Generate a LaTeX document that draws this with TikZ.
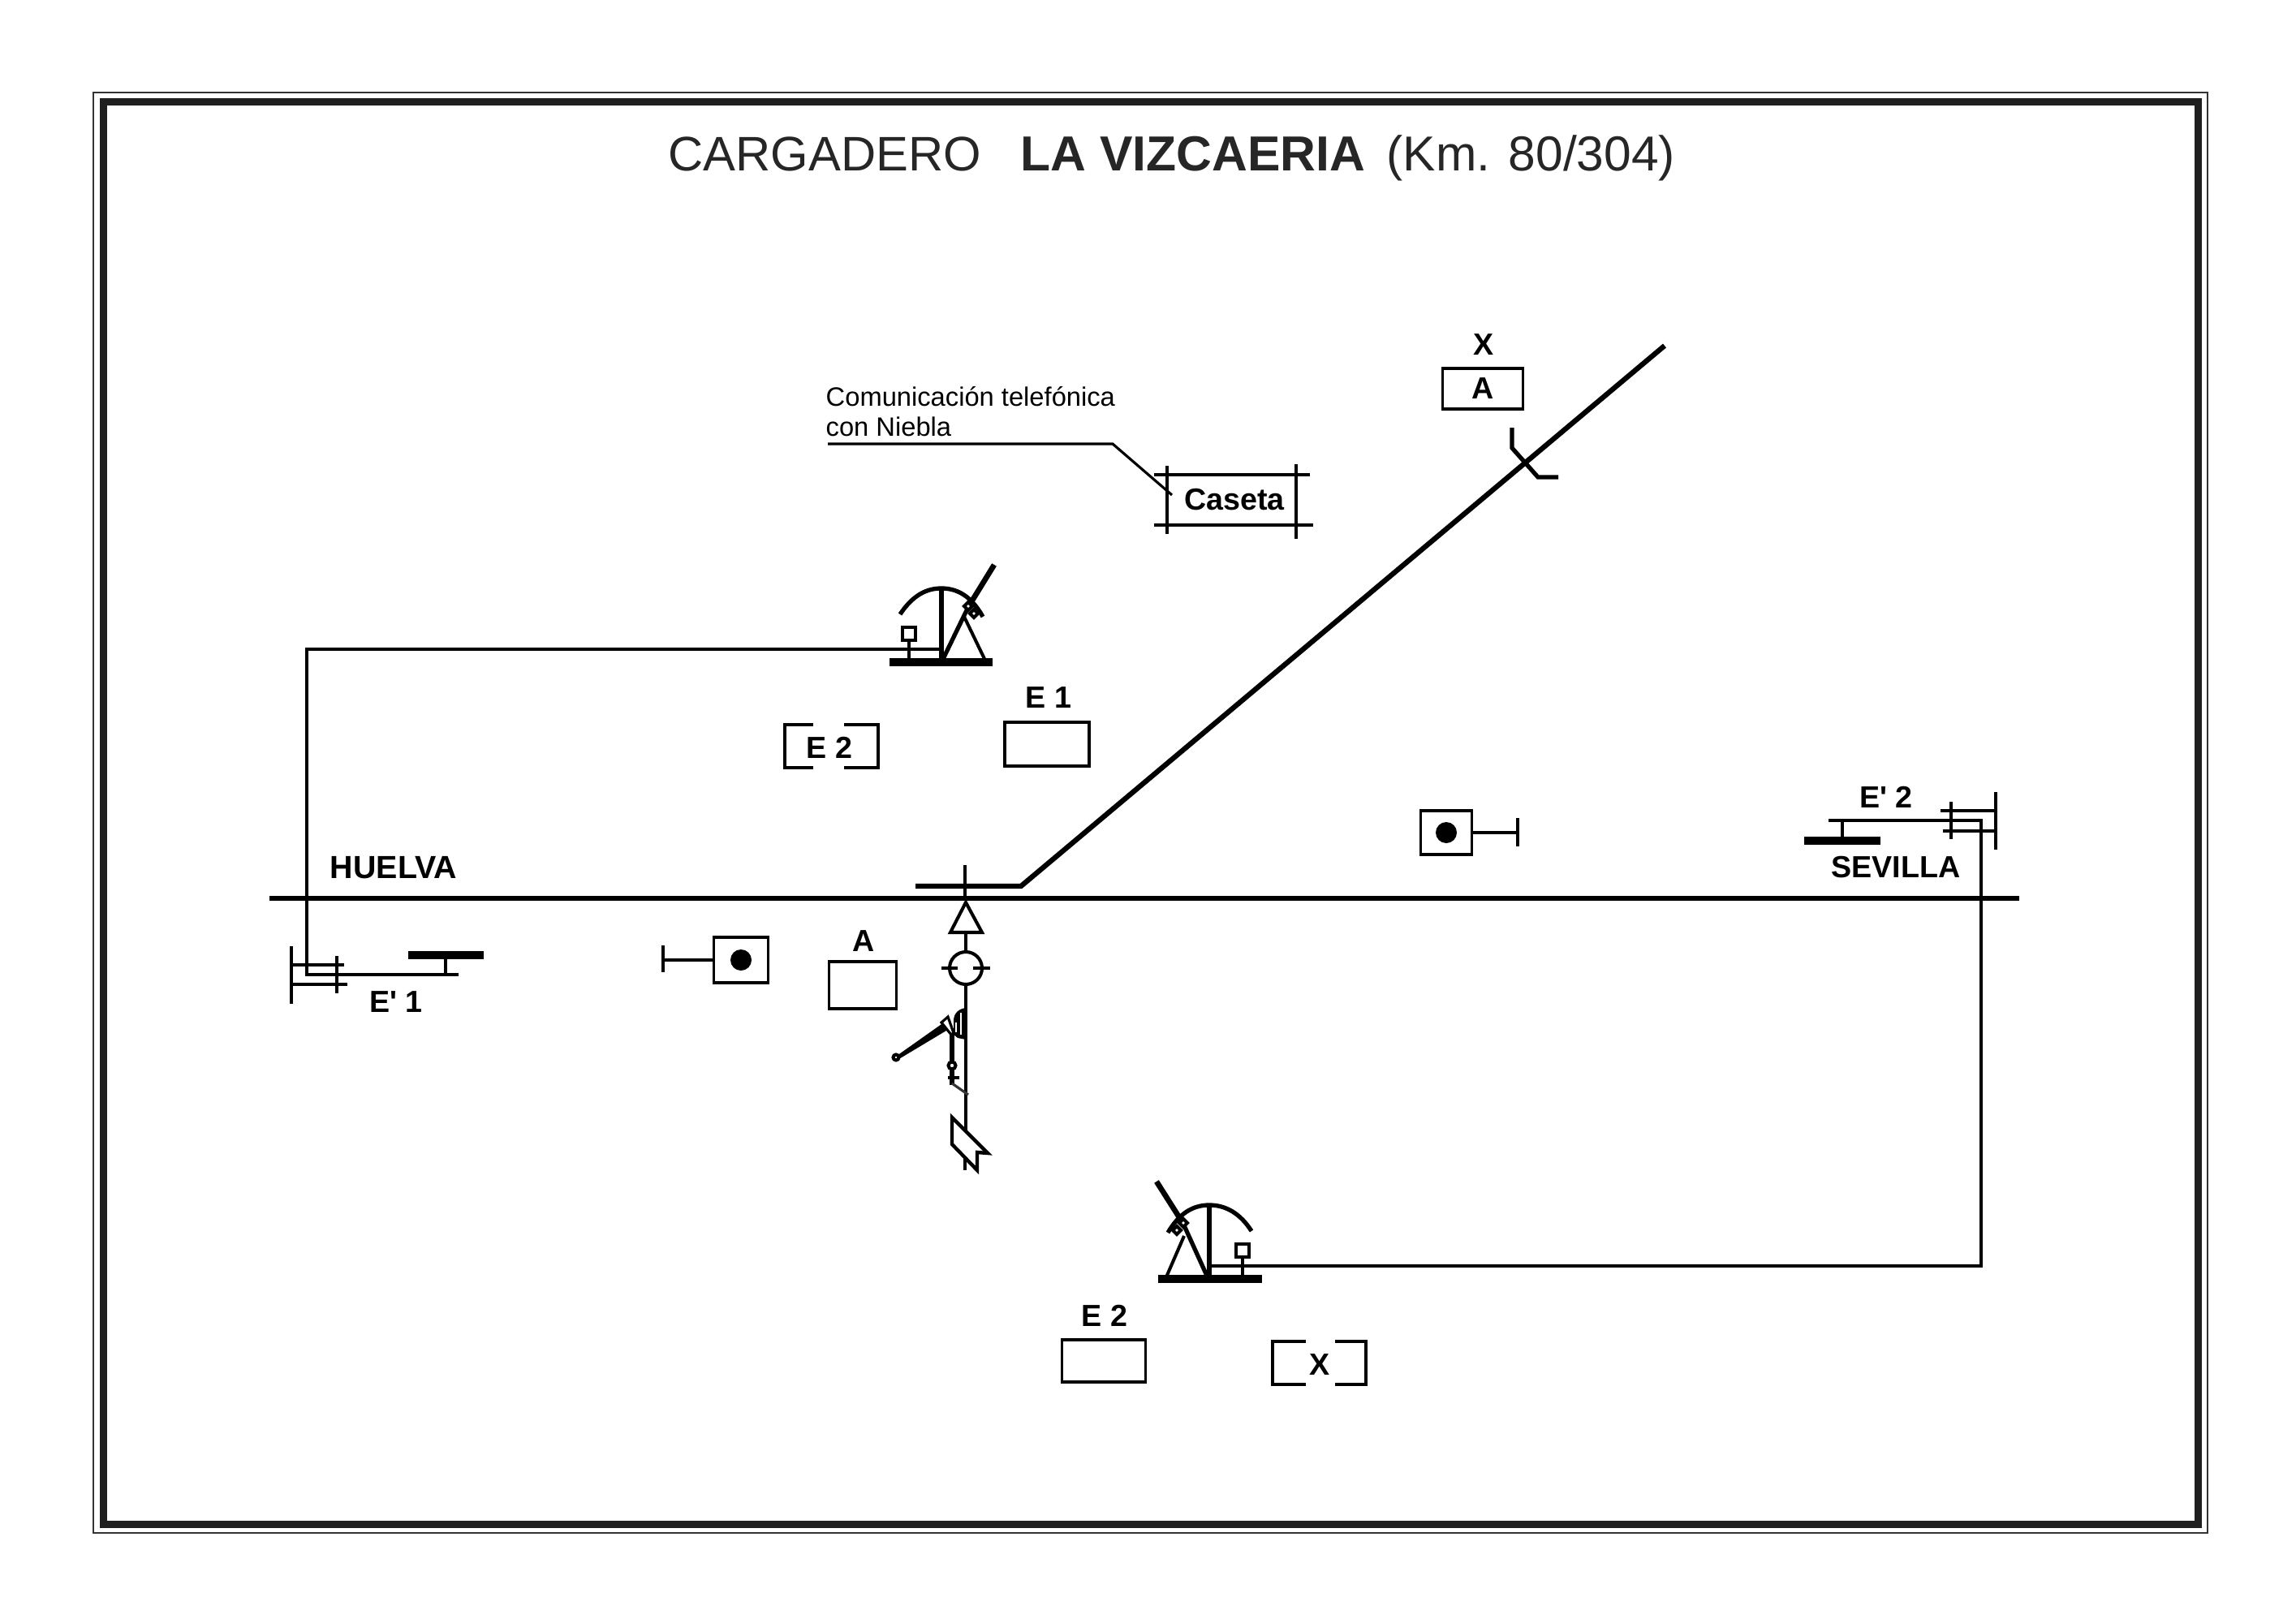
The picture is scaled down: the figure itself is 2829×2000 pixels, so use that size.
\documentclass[tikz,border=0pt]{standalone}
\usepackage{fontspec}
\setmainfont{Liberation Sans}
\tikzset{
    tag/.style={inner sep=0pt, font=\fontsize{10.7}{12}\selectfont\bfseries},
    cabin/.style={draw, line width=1pt, inner sep=0pt, fill=white},
    wireline/.style={line width=0.9pt},
    thinline/.style={line width=0.9pt},
    frameline/.style={line width=1pt},
    midline/.style={line width=1.15pt},
    railline/.style={line width=1.8pt},
    bar/.style={line width=2.6pt},
    mast/.style={line width=1.9pt},
    arm/.style={line width=1.5pt}
}
\begin{document}
\begin{tikzpicture}[x=0.01cm, y=-0.01cm]
    \useasboundingbox (0, 0) rectangle (2829, 2000);

    \draw[line width=0.7pt, color=black!80] (115, 114) rectangle (2720, 1889);
    \draw[line width=2.56pt, color=black!88] (127.5, 126) rectangle (2708, 1878);

    \node[anchor=base west, inner sep=0pt, color=black!85, font=\fontsize{17}{20}\selectfont] (titlea) at (823, 211) {CARGADERO};
    \node[anchor=base west, inner sep=0pt, color=black!85, font=\fontsize{17.25}{20}\selectfont\bfseries] (titleb) at (1257, 211) {LA VIZCAERIA};
    \node[anchor=base west, inner sep=0pt, color=black!85, font=\fontsize{17.2}{20}\selectfont] (titlec) at (1708, 211) {(Km. 80/304)};

    \draw[railline] (332, 1107) -- (2488, 1107);
    \draw[railline] (1128, 1092) -- (1258, 1092) -- (2051, 426);
    \draw[midline] (1189, 1066) -- (1189, 1107);

    \draw[midline] (1190, 1112) -- (1171, 1149) -- (1210, 1149) -- cycle;
    \node[circle, draw, midline, minimum size=40*0.01cm, inner sep=0pt] (lamp) at (1190, 1193) {};
    \draw[midline] (1190, 1149) -- (lamp.north);
    \draw[midline] (lamp.south) -- (1190, 1393);
    \draw[midline] (1160, 1193) -- (1180, 1193);
    \draw[midline] (1199, 1193) -- (1220, 1193);
    \draw[line width=1.25pt, fill=white] (1173, 1377) -- (1173, 1410) -- (1204, 1442) -- (1204, 1420) -- (1217, 1421) -- cycle;
    \draw[midline] (1189, 1425) -- (1189, 1442);

    \fill (1105, 1301) -- (1163, 1260) -- (1166, 1270) -- (1106, 1306) -- cycle;
    \draw[midline, fill=white] (1104, 1303) circle (3.5);
    \draw[arm] (1173, 1273) -- (1173, 1337);
    \draw[thinline] (1168, 1328) -- (1182, 1328);
    \draw[thinline, color=black!80] (1173, 1335) -- (1193, 1349);
    \draw[midline, fill=white] (1173, 1313) circle (4.5);
    \fill (1190, 1242) .. controls (1182, 1243) and (1175, 1248) .. (1175, 1258) -- (1175, 1275) -- (1180, 1279) -- (1190, 1281) -- cycle;
    \fill[white] (1182.5, 1248) rectangle (1185, 1275);
    \fill[white] (1177, 1260) rectangle (1178.5, 1272);
    \draw[thinline, fill=white] (1160, 1260) -- (1168, 1253) -- (1175, 1273) -- (1172, 1275) -- cycle;

    \draw[arm] (1109, 757) .. controls (1125, 733) and (1142, 725) .. (1160, 725) .. controls (1180, 725) and (1197, 735) .. (1211, 760);
    \draw[bar] (1096, 816) -- (1223, 816);
    \draw[mast] (1160, 816) -- (1160, 725);
    \draw[arm] (1162, 812) -- (1193, 748);
    \draw[mast] (1193, 748) -- (1225, 696);
    \draw[midline] (1188, 760) -- (1215, 816);
    \draw[midline] (1120, 816) -- (1120, 781);
    \node[cabin, minimum size=16*0.01cm] (leverw) at (1120, 781) {};
    \draw[midline, fill=white] (1188, 747) -- (1193, 742) -- (1198, 747) -- (1193, 752) -- cycle;
    \draw[midline, fill=white] (1195, 756) -- (1200, 751) -- (1205, 756) -- (1200, 761) -- cycle;

    \draw[arm] (1439, 1519) .. controls (1453, 1495) and (1470, 1485) .. (1490, 1485) .. controls (1510, 1485) and (1528, 1495) .. (1542, 1517);
    \draw[bar] (1427, 1576) -- (1555, 1576);
    \draw[mast] (1490, 1576) -- (1490, 1485);
    \draw[arm] (1487, 1572) -- (1458, 1508);
    \draw[mast] (1458, 1508) -- (1425, 1456);
    \draw[midline] (1459, 1523) -- (1436, 1576);
    \draw[midline] (1531, 1576) -- (1531, 1541);
    \node[cabin, minimum size=16*0.01cm] (levere) at (1531, 1541) {};
    \draw[midline, fill=white] (1453, 1507) -- (1458, 1502) -- (1463, 1507) -- (1458, 1512) -- cycle;
    \draw[midline, fill=white] (1445, 1516) -- (1450, 1511) -- (1455, 1516) -- (1450, 1521) -- cycle;

    \draw[wireline] (1160, 800) -- (378, 800) -- (378, 1201) -- (565, 1201);
    \draw[frameline] (549, 1201) -- (549, 1177);
    \draw[bar] (503, 1177) -- (596, 1177);
    \draw[frameline] (359, 1166) -- (359, 1237);
    \draw[frameline] (359, 1189) -- (424, 1189);
    \draw[frameline] (359, 1213) -- (428, 1213);
    \draw[frameline] (415, 1178) -- (415, 1224);

    \draw[wireline] (1490, 1560) -- (2441, 1560) -- (2441, 1011) -- (2253, 1011);
    \draw[frameline] (2270, 1011) -- (2270, 1036);
    \draw[bar] (2223, 1036) -- (2317, 1036);
    \draw[frameline] (2459, 976) -- (2459, 1047);
    \draw[frameline] (2391, 999) -- (2459, 999);
    \draw[frameline] (2394, 1024) -- (2459, 1024);
    \draw[frameline] (2404, 988) -- (2404, 1034);

    \node[anchor=base west, inner sep=0pt, font=\fontsize{9.3}{11}\selectfont] (phonea) at (1017, 500) {Comunicación telefónica};
    \node[anchor=base west, inner sep=0pt, font=\fontsize{9.3}{11}\selectfont] (phoneb) at (1017, 537) {con Niebla};
    \draw[wireline] (1020, 547) -- (1371, 547) -- (1444, 610);

    \node[tag] (caseta) at (1521, 616) {Caseta};
    \draw[thinline] (1422, 585) -- (1614, 585);
    \draw[thinline] (1422, 647) -- (1618, 647);
    \draw[thinline] (1438, 574) -- (1438, 658);
    \draw[thinline] (1597, 572) -- (1597, 664);

    \draw[arm] (1863, 527) -- (1863, 552) -- (1895, 588) -- (1920, 588);

    \node[tag] (xtop) at (1828, 425) {X};
    \node[cabin, minimum width=99*0.01cm, minimum height=50*0.01cm] (atop) at (1827, 479) {\fontsize{10.7}{12}\selectfont\bfseries A};

    \node[tag] (eonelabel) at (1292, 860) {E 1};
    \node[cabin, minimum width=104*0.01cm, minimum height=54*0.01cm] (eone) at (1290, 917) {};

    \node[tag] (etwotop) at (1022, 921) {E 2};
    \draw[frameline] (1002, 893) -- (967, 893) -- (967, 946) -- (1002, 946);
    \draw[frameline] (1040, 893) -- (1082, 893) -- (1082, 946) -- (1040, 946);

    \node[cabin, minimum width=63*0.01cm, minimum height=54*0.01cm] (dotr) at (1782, 1026) {};
    \fill (dotr.center) circle (13);
    \coordinate (dotrend) at (1870, 1026);
    \draw[frameline] (dotr.east) -- (dotrend);
    \draw[frameline] (1870, 1008) -- (1870, 1043);

    \node[cabin, minimum width=67*0.01cm, minimum height=56*0.01cm] (dotl) at (913, 1183) {};
    \fill (dotl.center) circle (13);
    \coordinate (dotlend) at (817, 1183);
    \draw[frameline] (dotl.west) -- (dotlend);
    \draw[frameline] (817, 1165) -- (817, 1198);

    \node[tag] (alabel) at (1064, 1160) {A};
    \node[cabin, minimum width=83*0.01cm, minimum height=58*0.01cm] (abox) at (1063, 1214) {};

    \node[tag] (etwolabel) at (1361, 1621) {E 2};
    \node[cabin, minimum width=103*0.01cm, minimum height=52*0.01cm] (etwo) at (1360, 1677) {};

    \node[tag] (xlow) at (1626, 1682) {X};
    \draw[frameline] (1609, 1653) -- (1568, 1653) -- (1568, 1706) -- (1609, 1706);
    \draw[frameline] (1645, 1653) -- (1683, 1653) -- (1683, 1706) -- (1645, 1706);

    \node[tag, font=\fontsize{11.2}{12}\selectfont\bfseries] (huelva) at (485, 1069) {HUELVA};
    \node[tag] (sevilla) at (2336, 1069) {SEVILLA};
    \node[tag] (eponelabel) at (488, 1235) {E\textquotesingle{} 1};
    \node[tag] (eptwolabel) at (2324, 982) {E\textquotesingle{} 2};
\end{tikzpicture}
\end{document}
